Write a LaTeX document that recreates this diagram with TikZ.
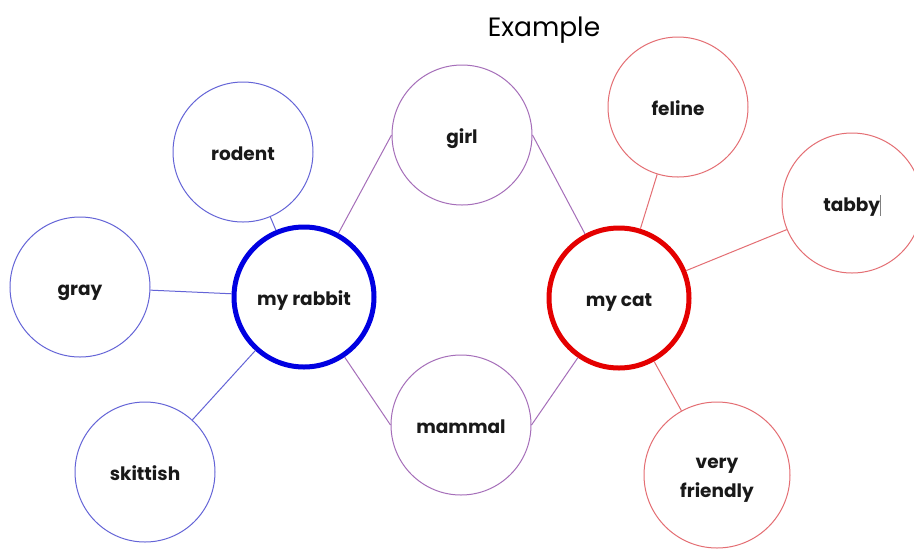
\documentclass[tikz,border=0pt]{standalone}
\usepackage{fontspec}
\newfontfamily\labfont{Poppins}
\definecolor{tblue}{RGB}{100,100,215}
\definecolor{hblue}{RGB}{0,0,225}
\definecolor{tpurp}{RGB}{165,110,185}
\definecolor{tred}{RGB}{228,110,115}
\definecolor{hred}{RGB}{228,0,0}
\definecolor{txt}{RGB}{25,25,25}
\begin{document}
\begin{tikzpicture}[x=1pt,y=-1pt,
  bubble/.style={circle, draw, minimum size=140pt, inner sep=0pt, line width=1pt,
    text height=18pt, text depth=2pt,
    text=txt, font=\labfont\bfseries\fontsize{18.5}{29}\selectfont, align=center},
  hub/.style={bubble, line width=5pt},
  link/.style={line width=1pt}]
\useasboundingbox (0,0) rectangle (914,550);
\fill[white] (0,0) rectangle (914,550);
\node[font=\labfont\fontsize{26.5}{30}\selectfont, text=black] (title) at (544,30) {Example};
% rabbit side
\node[hub, draw=hblue] (rabbit) at (304,297) {my rabbit};
\node[bubble, draw=tblue] (rodent) at (243,152) {rodent};
\node[bubble, draw=tblue] (gray) at (80,287) {gray};
\node[bubble, draw=tblue] (skittish) at (145,472) {skittish};
% middle
\node[bubble, draw=tpurp] (girl) at (462,135) {girl};
\node[bubble, draw=tpurp] (mammal) at (461,425) {mammal};
% cat side
\node[hub, draw=hred] (cat) at (619,298) {my cat};
\node[bubble, draw=tred] (feline) at (678,107) {feline};
\node[bubble, draw=tred] (tabby) at (852,203) {tabby\textcolor{gray}{\rule[-0.25em]{0.6pt}{1.1em}}};
\node[bubble, draw=tred, minimum size=146pt, text height=46pt] (friendly) at (717,475) {very\\friendly};
% connectors
\draw[link, tblue] (rodent) -- (rabbit);
\draw[link, tblue] (gray) -- (rabbit);
\draw[link, tblue] (skittish) -- (rabbit);
\draw[link, tpurp] (rabbit) -- (girl.west);
\draw[link, tpurp] (rabbit) -- (mammal.west);
\draw[link, tpurp] (girl.east) -- (cat);
\draw[link, tpurp] (mammal.east) -- (cat);
\draw[link, tred] (feline) -- (cat);
\draw[link, tred] (tabby) -- (cat);
\draw[link, tred] (friendly) -- (cat);
\end{tikzpicture}
\end{document}
